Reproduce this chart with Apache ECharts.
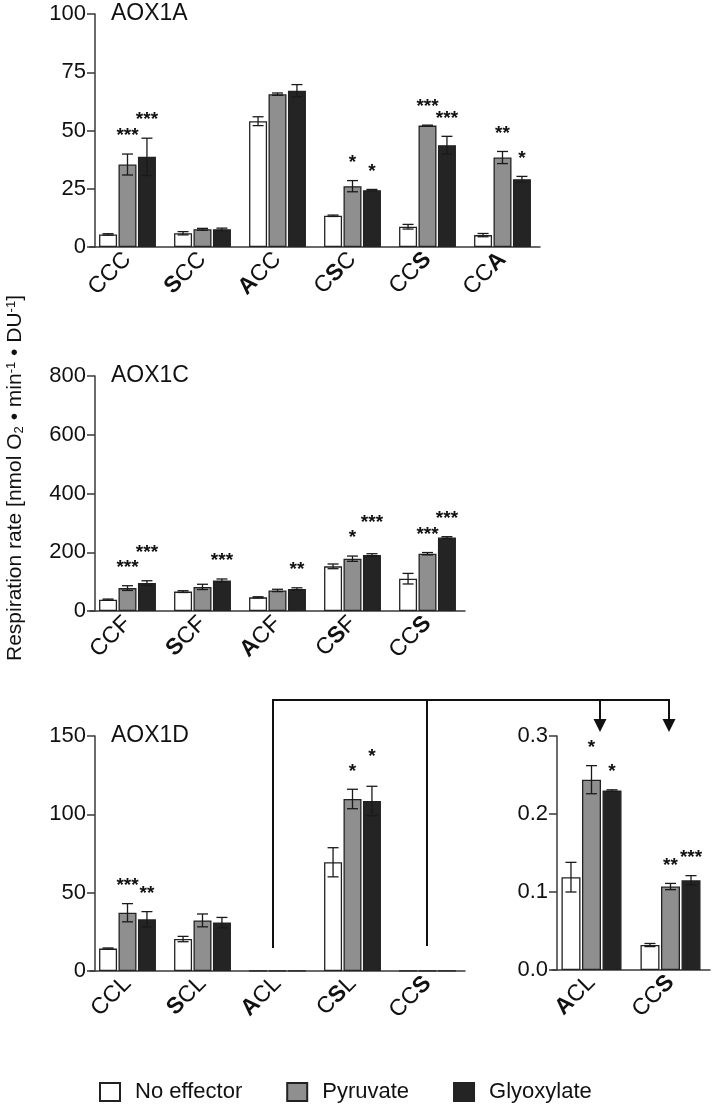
<!DOCTYPE html>
<html><head><meta charset="utf-8">
<script src="https://cdn.jsdelivr.net/npm/echarts@6/dist/echarts.min.js"></script>
<style>html,body{margin:0;padding:0;background:#fff}#c{width:717px;height:1106px}</style>
</head><body><div id="c"></div>
<script>
const seriesNames = ['No effector', 'Pyruvate', 'Glyoxylate'];

// AOX1A
const catsA = ['CCC', 'SCC', 'ACC', 'CSC', 'CCS', 'CCA'];
const noEffA = [5.4, 5.9, 54.0, 13.4, 8.7, 5.1];
const noEffErrA = [0.3, 0.7, 1.9, 0.3, 1.0, 0.7];
const pyrA = [35.4, 7.6, 65.6, 26.1, 52.1, 38.4];
const pyrErrA = [4.5, 0.4, 0.5, 2.4, 0.2, 2.6];
const glyA = [38.7, 7.6, 67.1, 24.4, 43.7, 29.1];
const glyErrA = [8.0, 0.5, 2.6, 0.3, 3.8, 1.2];
const sigPyrA = ['***', '', '', '*', '***', '**'];
const sigGlyA = ['***', '', '', '*', '***', '*'];
const ticksA = [0, 25, 50, 75, 100];

// AOX1C
const catsC = ['CCF', 'SCF', 'ACF', 'CSF', 'CCS'];
const noEffC = [38.6, 66, 46.5, 152, 110];
const noEffErrC = [2, 3, 2, 8, 18];
const pyrC = [78, 82, 70, 178, 195];
const pyrErrC = [8, 9, 4, 9, 4];
const glyC = [95, 104, 75, 191, 250];
const glyErrC = [8, 5, 4, 4, 3];
const sigPyrC = ['***', '', '', '*', '***'];
const sigGlyC = ['***', '***', '**', '***', '***'];
const ticksC = [0, 200, 400, 600, 800];

// AOX1D
const catsD = ['CCL', 'SCL', 'ACL', 'CSL', 'CCS'];
const noEffD = [14.3, 20.4, 0.119, 69.4, 0.032];
const noEffErrD = [0.4, 1.7, 0, 9.3, 0];
const pyrD = [37.2, 32.3, 0.244, 109.8, 0.107];
const pyrErrD = [5.8, 4.1, 0, 6.2, 0];
const glyD = [33.0, 30.9, 0.230, 108.5, 0.115];
const glyErrD = [4.9, 3.3, 0, 9.4, 0];
const sigPyrD = ['***', '', '', '*', ''];
const sigGlyD = ['**', '', '', '*', ''];
const ticksD = [0, 50, 100, 150];

// Inset (ACL, CCS of AOX1D)
const catsI = ['ACL', 'CCS'];
const noEffI = [0.119, 0.032];
const noEffErrI = [0.019, 0.002];
const pyrI = [0.244, 0.107];
const pyrErrI = [0.018, 0.004];
const glyI = [0.230, 0.115];
const glyErrI = [0.001, 0.006];
const sigPyrI = ['*', '**'];
const sigGlyI = ['*', '***'];
const ticksI = [0, 0.1, 0.2, 0.3];

const FONT = 'Arial, "Liberation Sans", sans-serif';
const colors = ['#ffffff', '#8f8f8f', '#242424'];
const GAP = 0.08;
const STAR_OFF = 18;

const panels = [
  { title: 'AOX1A', cats: catsA, vals: [noEffA, pyrA, glyA], errs: [noEffErrA, pyrErrA, glyErrA],
    sig: [[], sigPyrA, sigGlyA], ticks: ticksA, grid: { left: 90, top: 14, width: 450, height: 233 }, bw: 18, dec: 0 },
  { title: 'AOX1C', cats: catsC, vals: [noEffC, pyrC, glyC], errs: [noEffErrC, pyrErrC, glyErrC],
    sig: [[], sigPyrC, sigGlyC], ticks: ticksC, grid: { left: 90, top: 376, width: 375, height: 235 }, bw: 18, dec: 0 },
  { title: 'AOX1D', cats: catsD, vals: [noEffD, pyrD, glyD], errs: [noEffErrD, pyrErrD, glyErrD],
    sig: [[], sigPyrD, sigGlyD], ticks: ticksD, grid: { left: 90, top: 736, width: 375, height: 235 }, bw: 18, dec: 0 },
  { title: null, cats: catsI, vals: [noEffI, pyrI, glyI], errs: [noEffErrI, pyrErrI, glyErrI],
    sig: [[], sigPyrI, sigGlyI], ticks: ticksI, grid: { left: 552, top: 736, width: 158, height: 234 }, bw: 19, dec: 1 }
];

const grids = [], xAxes = [], yAxes = [], series = [];
const axisColor = '#3a3a3a';

panels.forEach((p, pi) => {
  grids.push(p.grid);
  xAxes.push({
    type: 'category', gridIndex: pi, data: p.cats,
    axisTick: { show: false },
    axisLine: { lineStyle: { color: axisColor, width: 1.5 } },
    axisLabel: {
      rotate: 45, margin: 9, fontSize: 23, color: '#111', fontFamily: FONT, interval: 0,
      formatter: v => v.replace(/([SA])/g, '{b|$1}'),
      rich: { b: { fontSize: 23, fontWeight: 'bold', fontFamily: FONT, color: '#111' } }
    }
  });
  const t = p.ticks;
  yAxes.push({
    type: 'value', gridIndex: pi, min: t[0], max: t[t.length - 1], interval: t[1] - t[0],
    offset: -5,
    splitLine: { show: false },
    axisLine: { show: true, lineStyle: { color: axisColor, width: 1.5 } },
    axisTick: { show: true, length: 8, lineStyle: { color: axisColor, width: 1.5 } },
    axisLabel: { fontSize: 22, color: '#111', margin: 9, fontFamily: FONT,
      formatter: v => v.toFixed(p.dec) }
  });
  for (let k = 0; k < 3; k++) {
    series.push({
      type: 'bar', name: seriesNames[k], xAxisIndex: pi, yAxisIndex: pi,
      data: p.vals[k], barWidth: p.bw, barGap: (GAP * 100) + '%',
      itemStyle: { color: colors[k], borderColor: '#222', borderWidth: 1.3 },
      emphasis: { disabled: true }, z: 2
    });
  }
  for (let k = 0; k < 3; k++) {
    series.push({
      type: 'custom', name: 'err' + pi + '_' + k, xAxisIndex: pi, yAxisIndex: pi, z: 5,
      data: p.vals[k].map((v, i) => [i, v, p.errs[k][i]]),
      encode: { x: 0, y: 1 },
      renderItem: (params, api) => {
        const i = api.value(0), v = api.value(1), e = api.value(2);
        const c = api.coord([i, v]);
        const x = c[0] + (k - 1) * p.bw * (1 + GAP);
        const yTop = api.coord([i, v + e])[1];
        const yBot = api.coord([i, Math.max(v - e, 0)])[1];
        const ls = { stroke: '#1a1a1a', lineWidth: 1.3 };
        const cap = 5.5;
        const ch = [];
        if (e > 0) {
          ch.push({ type: 'line', shape: { x1: x, y1: yTop, x2: x, y2: yBot }, style: ls });
          ch.push({ type: 'line', shape: { x1: x - cap, y1: yTop, x2: x + cap, y2: yTop }, style: ls });
          ch.push({ type: 'line', shape: { x1: x - cap, y1: yBot, x2: x + cap, y2: yBot }, style: ls });
        }
        const s = (p.sig[k] || [])[params.dataIndex];
        if (s) {
          let ys = yTop - STAR_OFF;
          // avoid overlap with the neighbouring (pyruvate) asterisks
          if (k === 2 && p.sig[1][i]) {
            const vp = p.vals[1][i] + p.errs[1][i];
            const yp = api.coord([i, vp])[1] - STAR_OFF;
            if (Math.abs(ys - yp) < 7.5) ys = yp - 15;
          }
          ch.push({ type: 'text', style: { text: s, x: x, y: ys, align: 'center',
            verticalAlign: 'middle', fontSize: 19, fontWeight: 'bold', fontFamily: FONT, fill: '#111' } });
        }
        return { type: 'group', children: ch };
      }
    });
  }
});

const graphics = [];
panels.forEach(p => {
  if (p.title) {
    graphics.push({ type: 'text', left: 111, top: p.grid.top - 12,
      style: { text: p.title, fontSize: 23, fontFamily: FONT, fill: '#111' } });
  }
});
graphics.push({
  type: 'text', x: 15, y: 478, rotation: Math.PI / 2,
  style: {
    text: 'Respiration rate [nmol O{sub|2} \u2022 min{sup|-1} \u2022 DU{sup|-1}]',
    x: 0, y: 0, align: 'center', verticalAlign: 'middle',
    fontSize: 21, fontFamily: FONT, fill: '#111',
    rich: {
      sub: { fontSize: 13, fontFamily: FONT, fill: '#111', verticalAlign: 'bottom', padding: [8, 0, 0, 0] },
      sup: { fontSize: 13, fontFamily: FONT, fill: '#111', verticalAlign: 'top', padding: [0, 0, 8, 0] }
    }
  }
});
const lineStyle = { stroke: '#111', lineWidth: 2, fill: null };
graphics.push({ type: 'polyline', shape: { points: [[273, 948], [273, 700], [669, 700], [669, 720]] }, style: lineStyle });
graphics.push({ type: 'line', shape: { x1: 427, y1: 700, x2: 427, y2: 946 }, style: lineStyle });
graphics.push({ type: 'line', shape: { x1: 600, y1: 700, x2: 600, y2: 720 }, style: lineStyle });
[600, 669].forEach(ax => {
  graphics.push({ type: 'polygon', shape: { points: [[ax - 6.5, 719], [ax + 6.5, 719], [ax, 732]] },
    style: { fill: '#111' } });
});

const chart = echarts.init(document.getElementById('c'), null, { renderer: 'canvas' });
chart.setOption({
  animation: false,
  backgroundColor: '#fff',
  textStyle: { fontFamily: FONT },
  grid: grids, xAxis: xAxes, yAxis: yAxes, series: series,
  legend: {
    data: seriesNames, left: 94, top: 1076, icon: 'rect',
    itemWidth: 20, itemHeight: 18, itemGap: 44,
    textStyle: { fontSize: 22, color: '#111', fontFamily: FONT, padding: [0, 0, 0, 10] },
    selectedMode: false
  },
  graphic: graphics
});
</script></body></html>
